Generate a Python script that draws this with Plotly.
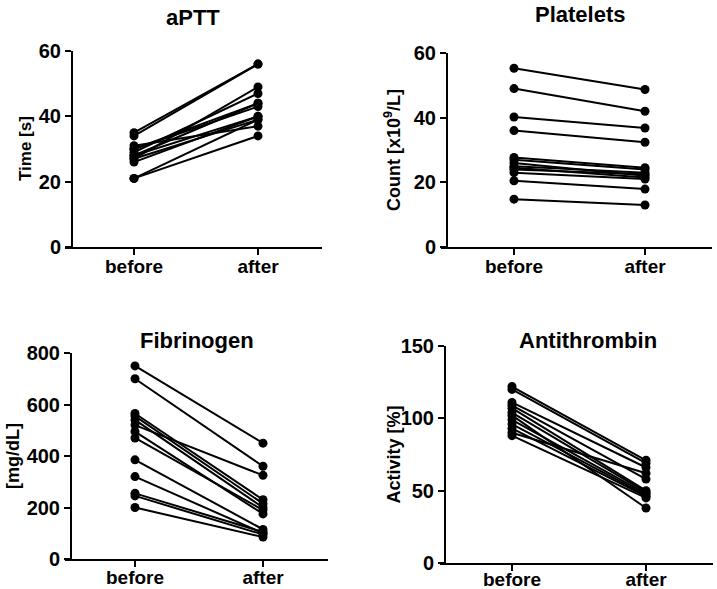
import plotly.graph_objects as go

categories = ["before", "after"]

aptt_before = [35, 34, 21, 21, 27, 29, 28, 30, 26, 27, 31, 28, 30]
aptt_after = [56, 56, 34, 39, 49, 47, 44, 43, 40, 39, 37, 40, 44]

plt_before = [55.3, 49, 40.2, 36, 27.7, 27, 26, 25, 24.5, 24, 23, 20.5, 14.8]
plt_after = [48.7, 42, 36.8, 32.4, 24.5, 24, 22, 23, 21.5, 22.5, 21, 17.9, 13]

fib_before = [750, 700, 520, 565, 555, 540, 495, 470, 385, 320, 255, 245, 200]
fib_after = [450, 360, 325, 230, 215, 200, 175, 190, 115, 100, 105, 95, 85]

at_before = [122, 120, 111, 109, 107, 104, 102, 99, 96, 93, 90, 88]
at_after = [71, 69, 66, 58, 50, 49, 38, 48, 47, 46, 62, 45]

# layout in reference pixels: x-axis span, y-axis x position, y span (zero, top), category centres
panels = [
    dict(title="aPTT", ytitle="Time [s]", before=aptt_before, after=aptt_after,
         yrange=[0, 60], dtick=20, xd=[65, 322], yax=72, yd=[247, 51], cat=[134, 258],
         tpos=(193, 17), ytpos=25, ytsize=17, so=-5),
    dict(title="Platelets", ytitle="Count [x10<sup>9</sup>/L]", before=plt_before, after=plt_after,
         yrange=[0, 60], dtick=20, xd=[441, 712], yax=447, yd=[247, 53], cat=[514, 645],
         tpos=(580, 14), ytpos=393, ytsize=18, so=-5),
    dict(title="Fibrinogen", ytitle="[mg/dL]", before=fib_before, after=fib_after,
         yrange=[0, 800], dtick=200, xd=[65, 328], yax=71, yd=[559, 353], cat=[135, 263],
         tpos=(197, 340), ytpos=13, ytsize=18, so=-6),
    dict(title="Antithrombin", ytitle="Activity [%]", before=at_before, after=at_after,
         yrange=[0, 150], dtick=50, xd=[440, 713], yax=445, yd=[563, 346], cat=[512, 646],
         tpos=(588, 340), ytpos=393, ytsize=18, so=-8),
]

W, H = 717, 589
fig = go.Figure()
FONT = "Liberation Sans, Arial, sans-serif"


def fx(px):
    return px / W


def fy(py):
    return 1 - py / H


for i, p in enumerate(panels):
    n = i + 1
    xa = "x" if n == 1 else f"x{n}"
    ya = "y" if n == 1 else f"y{n}"
    for b, a in zip(p["before"], p["after"]):
        fig.add_trace(go.Scatter(
            x=[0, 1], y=[b, a], mode="lines+markers", xaxis=xa, yaxis=ya,
            line=dict(color="black", width=2),
            marker=dict(color="black", size=9), showlegend=False, hoverinfo="skip",
            cliponaxis=False))
    x0, x1 = p["xd"]
    c0, c1 = p["cat"]
    unit = c1 - c0
    xr = [-(c0 - x0) / unit, 1 + (x1 - c1) / unit]
    xkey = "xaxis" if n == 1 else f"xaxis{n}"
    ykey = "yaxis" if n == 1 else f"yaxis{n}"
    fig.update_layout(**{
        xkey: dict(domain=[fx(x0), min(fx(x1), 1)], range=xr, anchor=ya, automargin=False,
                   tickvals=[0, 1], ticktext=categories, showgrid=False, zeroline=False,
                   showline=True, linecolor="black", linewidth=2,
                   ticks="outside", ticklen=6, tickwidth=2, tickcolor="black",
                   ticklabelstandoff=p["so"],
                   tickfont=dict(family=FONT, size=19, color="black", weight="bold")),
        ykey: dict(domain=[fy(p["yd"][0]), fy(p["yd"][1])], range=p["yrange"],
                   anchor="free", position=fx(p["yax"]),
                   dtick=p["dtick"], showgrid=False, zeroline=False, automargin=False,
                   showline=True, linecolor="black", linewidth=2,
                   ticks="outside", ticklen=6, tickwidth=2, tickcolor="black",
                   tickfont=dict(family=FONT, size=20, color="black", weight="bold")),
    })
    fig.add_annotation(text=f"<b>{p['title']}</b>", x=fx(p["tpos"][0]), y=fy(p["tpos"][1]),
                       xref="paper", yref="paper", showarrow=False, xanchor="center", yanchor="middle",
                       font=dict(family=FONT, size=22, color="black"))
    ymid = (p["yd"][0] + p["yd"][1]) / 2
    fig.add_annotation(text=f"<b>{p['ytitle']}</b>", x=fx(p["ytpos"]), y=fy(ymid),
                       xref="paper", yref="paper", showarrow=False, xanchor="center", yanchor="middle",
                       textangle=-90, font=dict(family=FONT, size=p["ytsize"], color="black"))

fig.update_layout(width=W, height=H, margin=dict(l=0, r=0, t=0, b=0),
                  paper_bgcolor="white", plot_bgcolor="white")
fig.write_html("out.html", config={"displayModeBar": False},
               post_script="document.body.style.margin='0';")
